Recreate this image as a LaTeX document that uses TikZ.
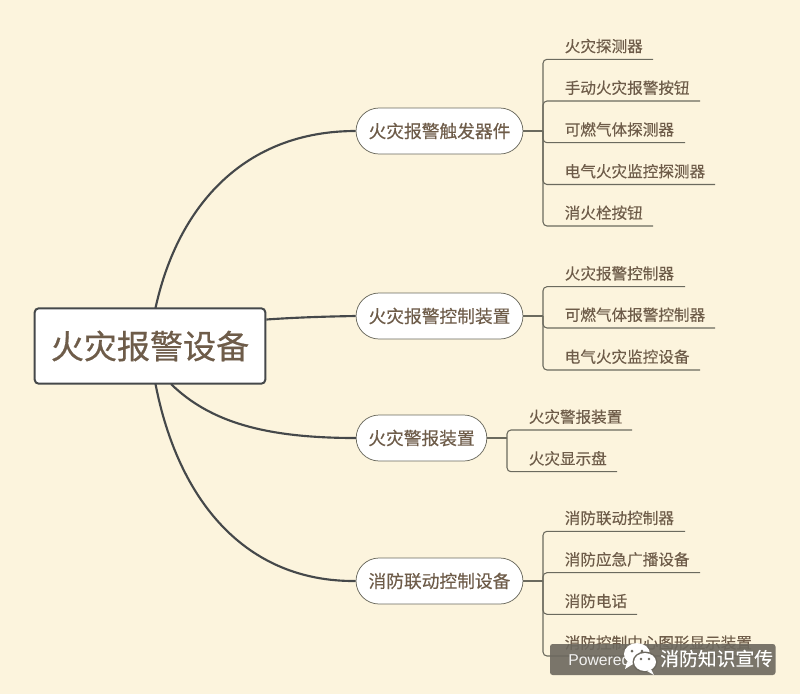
\documentclass[tikz,border=0pt]{standalone}
\usepackage{fontspec}
\setmainfont{Liberation Sans}
\newfontfamily\cjk[FakeBold=0.25]{Noto Sans CJK SC}
\newfontfamily\cjkroot[FakeBold=0.6]{Noto Sans CJK SC}
\definecolor{bgc}{HTML}{FCF4DD}
\definecolor{txt}{HTML}{6E5C49}
\definecolor{dark}{HTML}{45484A}
\definecolor{leafline}{HTML}{6B6A5E}
\definecolor{wmk}{HTML}{6C685E}
\usetikzlibrary{shapes.misc}
\tikzset{
  root/.style={draw=dark,line width=1.5pt,fill=white,rounded corners=3pt,minimum width=173pt,minimum height=56.5pt,inner sep=0pt,text=txt,font=\cjkroot\fontsize{24.8}{26}\selectfont},
  topic/.style={draw=leafline,line width=0.55pt,fill=white,rounded rectangle,minimum height=34.5pt,inner sep=0pt,text=txt,font=\cjk\fontsize{13.3}{15}\selectfont},
  leaf/.style={anchor=west,inner sep=0pt,text=txt,font=\cjk\fontsize{11.7}{13}\selectfont},
  curve/.style={draw=dark,line width=1.6pt},
  stem/.style={draw=leafline,line width=0.9pt},
  branch/.style={draw=leafline,line width=0.8pt,rounded corners=3pt},
}
\begin{document}
\begin{tikzpicture}[x=0.75pt,y=-0.75pt]
\useasboundingbox (0,0) rectangle (800,694);
\fill[bgc] (0,0) rectangle (800,694);
\node[root] (R) at (150,346) {\raisebox{-0.5pt}{火灾报警设备}};
\node[topic,minimum width=125.2pt] (T1) at (439.5,131) {\raisebox{-0.5pt}{火灾报警触发器件}};
\node[topic,minimum width=125.2pt] (T2) at (439.5,316) {\raisebox{-0.5pt}{火灾报警控制装置}};
\node[topic,minimum width=98pt] (T3) at (421.5,438) {\raisebox{-0.5pt}{火灾警报装置}};
\node[topic,minimum width=125.2pt] (T4) at (439.5,581) {\raisebox{-0.5pt}{消防联动控制设备}};
\draw[curve] (155.5,308) .. controls (178,205) and (245,131) .. (T1.west);
\draw[curve] (R.east |- 0,319.5) .. controls (295,317.5) and (325,316.5) .. (T2.west);
\draw[curve] (171,384) .. controls (210,422) and (265,438) .. (T3.west);
\draw[curve] (155.5,384) .. controls (178,500) and (245,582) .. (T4.west);

% group 1
\coordinate (J1) at (543,131);
\draw[stem] (T1.east) -- (J1);
\foreach \n/\y/\e/\t in {a/59.3/653/火灾探测器,b/101/700/手动火灾报警按钮,c/142.7/685/可燃气体探测器,d/184.5/715/电气火灾监控探测器,e/226/653/消火栓按钮}{
  \coordinate (E1\n) at (\e,\y);
  \node[leaf] (L1\n) at (564.5,\y-13.3) {\t};
  \draw[branch] (J1) |- (E1\n);
}
% group 2
\coordinate (J2) at (543,316);
\draw[stem] (T2.east) -- (J2);
\foreach \n/\y/\e/\t in {a/286.7/685/火灾报警控制器,b/328/715/可燃气体报警控制器,c/370/700/电气火灾监控设备}{
  \coordinate (E2\n) at (\e,\y);
  \node[leaf] (L2\n) at (564.5,\y-13.3) {\t};
  \draw[branch] (J2) |- (E2\n);
}
% group 3
\coordinate (J3) at (507,438);
\draw[stem] (T3.east) -- (J3);
\foreach \n/\y/\e/\t in {a/430/632/火灾警报装置,b/471.7/617/火灾显示盘}{
  \coordinate (E3\n) at (\e,\y);
  \node[leaf] (L3\n) at (528.5,\y-13.3) {\t};
  \draw[branch] (J3) |- (E3\n);
}
% group 4
\coordinate (J4) at (543,581);
\draw[stem] (T4.east) -- (J4);
\foreach \n/\y/\e/\t in {a/531.3/685/消防联动控制器,b/572.7/700/消防应急广播设备,c/614.3/637/消防电话,d/656/760/消防控制中心图形显示装置}{
  \coordinate (E4\n) at (\e,\y);
  \node[leaf] (L4\n) at (564.5,\y-13.3) {\t};
  \draw[branch] (J4) |- (E4\n);
}
% watermark
\fill[wmk,opacity=0.9,rounded corners=2pt] (550,644) rectangle (775.5,675);
\node[anchor=west,inner sep=0pt,text=white,font=\fontsize{11.8}{13}\selectfont,opacity=.9] (P) at (568,660) {Powered};
\fill[white] (637,654) ellipse [x radius=13,y radius=11];
\fill[white] (627,662) -- (625,669) -- (633,664) -- cycle;
\fill[wmk] (632,651) circle (1.5);
\fill[wmk] (642,651) circle (1.5);
\fill[wmk] (645,662) ellipse [x radius=12.5,y radius=10.5];
\fill[white] (645,662) ellipse [x radius=11,y radius=9];
\fill[white] (651,669) -- (654,675) -- (647,671) -- cycle;
\fill[wmk] (641,659) circle (1.3);
\fill[wmk] (649,659) circle (1.3);
\node[anchor=west,inner sep=0pt,text=white,font=\cjk\fontsize{14.1}{16}\selectfont] (W) at (660,658.5) {消防知识宣传};
\end{tikzpicture}
\end{document}
